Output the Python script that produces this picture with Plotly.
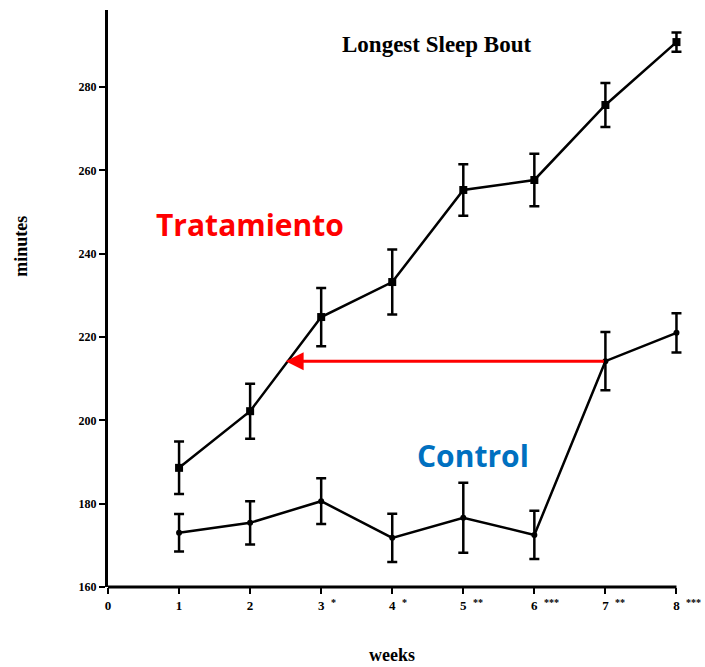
import plotly.graph_objects as go

weeks = [1, 2, 3, 4, 5, 6, 7, 8]
treat_mean = [188.6, 202.2, 224.8, 233.2, 255.3, 257.7, 275.7, 290.8]
treat_err = [6.3, 6.6, 7.0, 7.8, 6.2, 6.3, 5.3, 2.3]
ctrl_mean = [173.0, 175.4, 180.6, 171.8, 176.6, 172.5, 214.2, 221.0]
ctrl_err = [4.5, 5.2, 5.5, 5.8, 8.4, 5.8, 7.0, 4.7]
x_ticks = [0, 1, 2, 3, 4, 5, 6, 7, 8]
signif = ["", "", "", "*", "*", "**", "***", "**", "***"]
y_ticks = [160, 180, 200, 220, 240, 260, 280]

serif = "Liberation Serif"
x_max = 8
x_pad = 0.12
fig = go.Figure()
fig.add_trace(go.Scatter(
    x=weeks, y=treat_mean, mode="lines+markers", cliponaxis=False,
    line=dict(color="black", width=2.5),
    marker=dict(symbol="square", size=8, color="black"),
    error_y=dict(type="data", array=treat_err, color="black", thickness=2.5, width=5),
    showlegend=False))
fig.add_trace(go.Scatter(
    x=weeks, y=ctrl_mean, mode="lines+markers", cliponaxis=False,
    line=dict(color="black", width=2.5),
    marker=dict(symbol="circle", size=6, color="black"),
    error_y=dict(type="data", array=ctrl_err, color="black", thickness=2.5, width=5),
    showlegend=False))

# x axis line drawn only up to the last week
fig.add_shape(type="line", x0=0, x1=x_max, y0=0, y1=0, xref="x", yref="paper",
              line=dict(color="black", width=3))

# significance stars next to x tick labels
for xv, s in zip(x_ticks, signif):
    if s:
        fig.add_annotation(x=xv, y=0, yref="paper", text="<b>" + s + "</b>", showarrow=False,
                           xanchor="left", yanchor="top", xshift=8, yshift=-8,
                           font=dict(family=serif, size=10, color="black"))

# red arrow from control week 7 back to treatment curve
fig.add_annotation(x=2.5, y=ctrl_mean[6], ax=7, ay=ctrl_mean[6], xref="x", yref="y",
                   axref="x", ayref="y", showarrow=True, arrowhead=2, arrowsize=1.2,
                   arrowwidth=3, arrowcolor="#FF0000", text="")

fig.add_annotation(x=2.0, y=247, text="<b>Tratamiento</b>", showarrow=False,
                   font=dict(family="Open Sans", size=30, color="#FF0000"))
fig.add_annotation(x=5.13, y=191.6, text="<b>Control</b>", showarrow=False,
                   font=dict(family="Open Sans", size=30, color="#0070C0"))
fig.add_annotation(x=0.57, y=0.941, xref="paper", yref="paper", yanchor="middle",
                   text="<b>Longest Sleep Bout</b>",
                   showarrow=False, font=dict(family=serif, size=23, color="black"))
# axis titles
fig.add_annotation(x=(x_max / 2), y=-0.118, xref="x", yref="paper", yanchor="middle",
                   text="<b>weeks</b>", showarrow=False,
                   font=dict(family=serif, size=18, color="black"))
fig.add_annotation(x=-0.152, y=0.59, xref="paper", yref="paper", xanchor="center",
                   yanchor="middle", textangle=-90, text="<b>minutes</b>", showarrow=False,
                   font=dict(family=serif, size=18, color="black"))

fig.update_xaxes(range=[0, x_max + x_pad], tickvals=x_ticks,
                 ticktext=["<b>%d</b>" % v for v in x_ticks], automargin=False,
                 showline=False, ticks="outside", ticklen=6,
                 tickwidth=2, tickcolor="black", showgrid=False, zeroline=False,
                 tickfont=dict(family=serif, size=13, color="black"))
fig.update_yaxes(range=[160, 298.5], tickvals=y_ticks, ticktext=["<b>%d</b>" % v for v in y_ticks],
                 showline=True, linecolor="black", linewidth=3, ticks="outside", ticklen=6,
                 tickwidth=2, tickcolor="black", showgrid=False, zeroline=False, automargin=False,
                 tickfont=dict(family=serif, size=12, color="black"))
fig.update_layout(width=705, height=667, margin=dict(l=108, r=20, t=10, b=80),
                  plot_bgcolor="white", paper_bgcolor="white")
fig.write_html("out.html")
